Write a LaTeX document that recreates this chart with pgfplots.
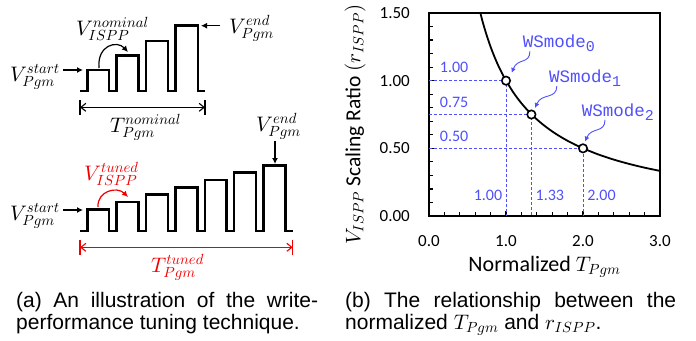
\documentclass[border=0pt]{standalone}
\usepackage{fontspec}
\setmainfont{Carlito}
\newfontfamily\capfont{Liberation Sans}
\newfontfamily\monofont{Liberation Mono}
\DeclareFontShape{OML}{cmm}{m}{it}{<-> cmmi10}{}
\DeclareFontShape{OMS}{cmsy}{m}{n}{<-> cmsy10}{}
\DeclareFontShape{OT1}{cmr}{m}{n}{<-> cmr10}{}
\usepackage{pgfplots}
\pgfplotsset{compat=1.18}
\usetikzlibrary{arrows.meta}
\definecolor{wsblue}{RGB}{80,80,250}
\definecolor{tred}{RGB}{240,0,0}
\newcommand{\ws}[1]{WSmode\raisebox{-4pt}{\fontsize{15}{17}\selectfont #1}}
\begin{document}
\begin{tikzpicture}[x=1pt,y=1pt]
\useasboundingbox (0,0) rectangle (696,-340);
% ---------------- (a) illustration ----------------
\begin{axis}[at={(0pt,-280pt)}, anchor=south west, scale only axis,
  width=320pt, height=280pt, xmin=0, xmax=320, ymin=0, ymax=280,
  y dir=reverse, hide axis, clip=false]
\addplot[black, line width=2.5pt, sharp plot, line join=miter] coordinates {
 (80,91)(87.3,91)(87.3,70)(109.1,70)(109.1,91)(116.7,91)(116.7,55.5)(138.5,55.5)(138.5,91)
 (146.1,91)(146.1,40.8)(167.9,40.8)(167.9,91)(175.5,91)(175.5,25.7)(197.8,25.7)(197.8,91)(205,91)};
\addplot[black, line width=2.5pt, sharp plot, line join=miter] coordinates {
 (80,231)(87.3,231)(87.3,209.3)(109.1,209.3)(109.1,231)(116.7,231)(116.7,202)(138.5,202)(138.5,231)
 (145.9,231)(145.9,194.5)(167.9,194.5)(167.9,231)(175.4,231)(175.4,187.3)(197.3,187.3)(197.3,231)
 (204.9,231)(204.9,180)(226.7,180)(226.7,231)(234,231)(234,172.7)(256.2,172.7)(256.2,231)
 (263.3,231)(263.3,165.3)(285.6,165.3)(285.6,231)(292.7,231)};
% arrows
\draw[-{Latex[length=6pt,width=6pt]}, line width=1.2pt] (axis cs:63,70) -- (axis cs:83,70);
\draw[-{Latex[length=6pt,width=6pt]}, line width=1.2pt] (axis cs:220,25.7) -- (axis cs:201,25.7);
\draw[-{Latex[length=6pt,width=6pt]}, line width=1.2pt] (axis cs:99,68) .. controls (axis cs:97,45) and (axis cs:117,40) .. (axis cs:128,52);
\draw[-{Latex[length=6pt,width=6pt]}, line width=1.2pt] (axis cs:63,210) -- (axis cs:83,210);
\draw[-{Latex[length=6pt,width=6pt]}, line width=1.2pt] (axis cs:275,141) -- (axis cs:275,164);
\draw[tred, -{Latex[length=6pt,width=6pt]}, line width=1.2pt] (axis cs:98,207) .. controls (axis cs:97,191) and (axis cs:117,186) .. (axis cs:128,197);
\draw[{Straight Barb[length=5pt,width=8pt]}-{Straight Barb[length=5pt,width=8pt]}, line width=1.1pt] (axis cs:80,107.3) -- (axis cs:205,107.3);
\draw[line width=1.1pt] (axis cs:80,100) -- (axis cs:80,115);
\draw[line width=1.1pt] (axis cs:205,100) -- (axis cs:205,115);
\draw[tred, {Straight Barb[length=5pt,width=8pt]}-{Straight Barb[length=5pt,width=8pt]}, line width=1.1pt] (axis cs:80,247.3) -- (axis cs:292.7,247.3);
\draw[tred, line width=1.1pt] (axis cs:80,240) -- (axis cs:80,255);
\draw[tred, line width=1.1pt] (axis cs:292.7,240) -- (axis cs:292.7,255);
% labels
\node[anchor=base east, inner sep=0pt, font=\fontsize{21}{25}\selectfont] at (axis cs:60,81.5) {$V^{start}_{Pgm}$};
\node[anchor=base west, inner sep=0pt, font=\fontsize{21}{25}\selectfont] at (axis cs:76,35) {$V^{nominal}_{ISPP}$};
\node[anchor=base west, inner sep=0pt, font=\fontsize{21}{25}\selectfont] at (axis cs:229,33) {$V^{end}_{Pgm}$};
\node[anchor=base west, inner sep=0pt, font=\fontsize{21}{25}\selectfont] at (axis cs:110,132) {$T^{nominal}_{Pgm}$};
\node[anchor=base east, inner sep=0pt, font=\fontsize{21}{25}\selectfont] at (axis cs:60,220) {$V^{start}_{Pgm}$};
\node[anchor=base west, inner sep=0pt, text=tred, font=\fontsize{21}{25}\selectfont] at (axis cs:84,180) {$V^{tuned}_{ISPP}$};
\node[anchor=base west, inner sep=0pt, font=\fontsize{21}{25}\selectfont] at (axis cs:256,131) {$V^{end}_{Pgm}$};
\node[anchor=base west, inner sep=0pt, text=tred, font=\fontsize{21}{25}\selectfont] at (axis cs:151,272) {$T^{tuned}_{Pgm}$};
\end{axis}
% ---------------- (b) plot ----------------
\begin{axis}[at={(429pt,-216pt)}, anchor=south west, scale only axis,
  width=231pt, height=203pt, xmin=0, xmax=3, ymin=0, ymax=1.5,
  axis line style={line width=1.8pt},
  xtick={0,1,2,3}, xticklabels={0.0,1.0,2.0,3.0},
  ytick={0,0.5,1,1.5}, yticklabels={0.00,0.50,1.00,1.50},
  minor x tick num=4, minor y tick num=4,
  tick align=inside, xtick pos=bottom, ytick pos=left,
  major tick length=5pt, minor tick length=4pt,
  tick style={line width=1.2pt, black},
  ticklabel style={font=\fontsize{17}{20}\selectfont, inner sep=0pt},
  xticklabel style={anchor=north, yshift=-19pt},
  yticklabel style={anchor=east, xshift=-19pt},
  /pgf/number format/assume math mode=true,
  clip=false]
\addplot[wsblue, line width=0.9pt, dash pattern=on 3pt off 2pt] coordinates {(0,1)(1,1)(1,0)};
\addplot[wsblue, line width=0.9pt, dash pattern=on 3pt off 2pt] coordinates {(0,0.75)(1.33,0.75)(1.33,0)};
\addplot[wsblue, line width=0.9pt, dash pattern=on 3pt off 2pt] coordinates {(0,0.5)(2,0.5)(2,0)};
\addplot[black, line width=1.8pt, smooth] coordinates {
 (0.667,1.5)(0.7,1.4286)(0.75,1.3333)(0.8,1.25)(0.85,1.1765)(0.9,1.1111)(0.95,1.0526)(1,1)
 (1.1,0.9091)(1.2,0.8333)(1.3,0.7692)(1.4,0.7143)(1.5,0.6667)(1.6,0.625)(1.7,0.5882)(1.8,0.5556)
 (1.9,0.5263)(2,0.5)(2.2,0.4545)(2.4,0.4167)(2.6,0.3846)(2.8,0.3571)(3,0.3333)};
\addplot[only marks, mark=*, mark size=4.2pt, mark options={fill=white, draw=black, line width=1.6pt}] coordinates {(1,1)(1.33,0.75)(2,0.5)};
% blue labels
\node[anchor=west, inner sep=0pt, text=wsblue, font=\fontsize{16}{19}\selectfont] at (axis cs:0.14,1.10) {1.00};
\node[anchor=west, inner sep=0pt, text=wsblue, font=\fontsize{16}{19}\selectfont] at (axis cs:0.14,0.84) {0.75};
\node[anchor=west, inner sep=0pt, text=wsblue, font=\fontsize{16}{19}\selectfont] at (axis cs:0.14,0.59) {0.50};
\node[inner sep=0pt, text=wsblue, font=\fontsize{16}{19}\selectfont] at (axis cs:0.766,0.156) {1.00};
\node[inner sep=0pt, text=wsblue, font=\fontsize{16}{19}\selectfont] at (axis cs:1.57,0.156) {1.33};
\node[inner sep=0pt, text=wsblue, font=\fontsize{16}{19}\selectfont] at (axis cs:2.24,0.156) {2.00};
\node[anchor=base west, inner sep=0pt, text=wsblue, font=\monofont\fontsize{17.5}{20}\selectfont] at (axis cs:1.217,1.242) {\ws{0}};
\node[anchor=base west, inner sep=0pt, text=wsblue, font=\monofont\fontsize{17.5}{20}\selectfont] at (axis cs:1.558,0.983) {\ws{1}};
\node[anchor=base west, inner sep=0pt, text=wsblue, font=\monofont\fontsize{17.5}{20}\selectfont] at (axis cs:1.983,0.736) {\ws{2}};
\draw[wsblue, line width=0.9pt, -{Latex[length=5pt,width=5pt]}] (axis cs:1.31,1.217) .. controls (axis cs:1.31,1.12) and (axis cs:1.15,1.17) .. (axis cs:1.074,1.057);
\draw[wsblue, line width=0.9pt, -{Latex[length=5pt,width=5pt]}] (axis cs:1.66,0.96) .. controls (axis cs:1.66,0.86) and (axis cs:1.46,0.91) .. (axis cs:1.377,0.798);
\draw[wsblue, line width=0.9pt, -{Latex[length=5pt,width=5pt]}] (axis cs:2.286,0.711) .. controls (axis cs:2.286,0.61) and (axis cs:2.11,0.66) .. (axis cs:2.026,0.55);
\end{axis}
% axis labels
\node[rotate=90, inner sep=0pt, font=\fontsize{21.5}{25}\selectfont] at (355,-124.5) {{\fontsize{21}{25}\selectfont$V_{ISPP}$} Scaling Ratio {\fontsize{21}{25}\selectfont$(r_{ISPP})$}};
\node[anchor=base, inner sep=0pt, font=\fontsize{22}{26}\selectfont] at (544.5,-271) {Normalized {\fontsize{21}{25}\selectfont$T_{Pgm}$}};
% captions
\node[anchor=base west, inner sep=0pt, font=\capfont\fontsize{21}{24}\selectfont] at (16,-307) {\makebox[302pt][s]{(a) An illustration of the write-}};
\node[anchor=base west, inner sep=0pt, font=\capfont\fontsize{21}{24}\selectfont] at (16,-329) {performance tuning technique.};
\node[anchor=base west, inner sep=0pt, font=\capfont\fontsize{21}{24}\selectfont] at (345,-307) {\makebox[331pt][s]{(b) The relationship between the}};
\node[anchor=base west, inner sep=0pt, font=\capfont\fontsize{21}{24}\selectfont] at (345,-329) {normalized $T_{Pgm}$ and $r_{ISPP}$.};
\end{tikzpicture}
\end{document}
